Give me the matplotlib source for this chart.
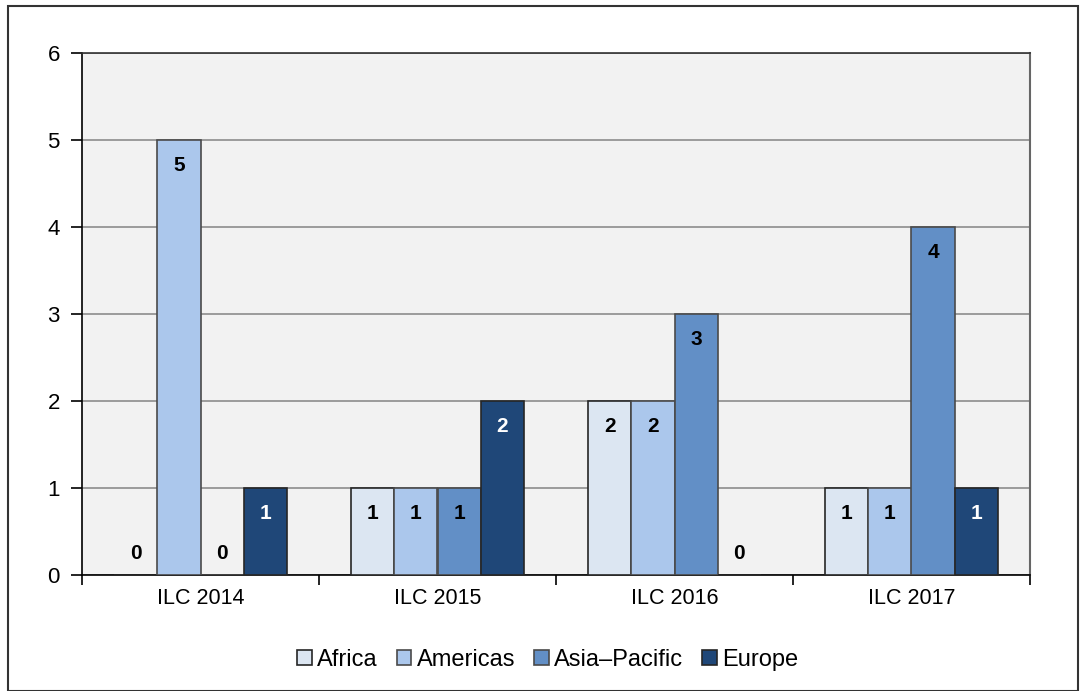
import matplotlib
matplotlib.use("Agg")
import matplotlib.pyplot as plt
import numpy as np
from matplotlib.patches import Rectangle

plt.rcParams['font.family'] = ['Liberation Sans', 'DejaVu Sans']

categories = ["ILC 2014", "ILC 2015", "ILC 2016", "ILC 2017"]
regions = ["Africa", "Americas", "Asia\u2013Pacific", "Europe"]
values = {
    "Africa": [0, 1, 2, 1],
    "Americas": [5, 1, 2, 1],
    "Asia\u2013Pacific": [0, 1, 3, 4],
    "Europe": [1, 2, 0, 1],
}
colors = ["#dce6f2", "#abc7ec", "#628fc6", "#1f4778"]
edges = ["#262626", "#4a4a4a", "#4a4a4a", "#262626"]
label_colors = ["black", "black", "black", "white"]

fig = plt.figure(figsize=(10.8, 6.91), dpi=100)
fig.patches.append(Rectangle((8 / 1080, 0), 1070 / 1080, 685 / 691,
                             transform=fig.transFigure, fill=False,
                             edgecolor="#333333", linewidth=1.5))
ax = fig.add_axes([82 / 1080, 1 - 575 / 691, 948 / 1080, 522 / 691])
ax.set_facecolor("#f2f2f2")

x = np.arange(len(categories))
group_w = 0.73
w = group_w / len(regions)
for i, r in enumerate(regions):
    pos = x - group_w / 2 + w * (i + 0.5)
    vals = values[r]
    ax.bar(pos, vals, width=w, color=colors[i], edgecolor=edges[i],
           linewidth=1.2, zorder=3)
    for p, v in zip(pos, vals):
        if v > 0:
            ax.text(p, v - 0.29, f"{v}", ha="center", va="center",
                    fontsize=15, fontweight="bold", color=label_colors[i],
                    zorder=4)
        else:
            ax.text(p, 0.25, f"{v}", ha="center", va="center",
                    fontsize=15, fontweight="bold", color="black", zorder=4)

ax.set_xlim(-0.5, len(categories) - 0.5)
ax.set_ylim(0, 6)
ax.set_yticks(range(0, 7))
ax.yaxis.grid(True, color="#8c8c8c", linewidth=1.2, zorder=0)
ax.set_axisbelow(True)

ax.set_xticks(x)
ax.set_xticklabels(categories, fontsize=15.5)
ax.set_xticks(np.arange(-0.5, len(categories)), minor=True)
ax.tick_params(axis="x", which="major", length=0, pad=9)
ax.tick_params(axis="x", which="minor", length=7, width=1.2, color="black")
ax.tick_params(axis="y", length=8, width=1.2, labelsize=16, pad=8,
               color="black")

for s in ["left", "bottom"]:
    ax.spines[s].set_color("black")
    ax.spines[s].set_linewidth(1.2)
ax.spines["top"].set_color("#333333")
ax.spines["top"].set_linewidth(1.2)
ax.spines["right"].set_color("#666666")
ax.spines["right"].set_linewidth(1.5)

handles = [Rectangle((0, 0), 1, 1, facecolor=colors[i], edgecolor=edges[i],
                     linewidth=1.2) for i in range(len(regions))]
fig.legend(handles, regions, loc="center", bbox_to_anchor=(548 / 1080, 1 - 660 / 691),
           ncol=4, frameon=False, fontsize=17, handlelength=0.6,
           handleheight=0.6, handletextpad=0.25, columnspacing=0.8)

fig.savefig("out.png", dpi=100)
